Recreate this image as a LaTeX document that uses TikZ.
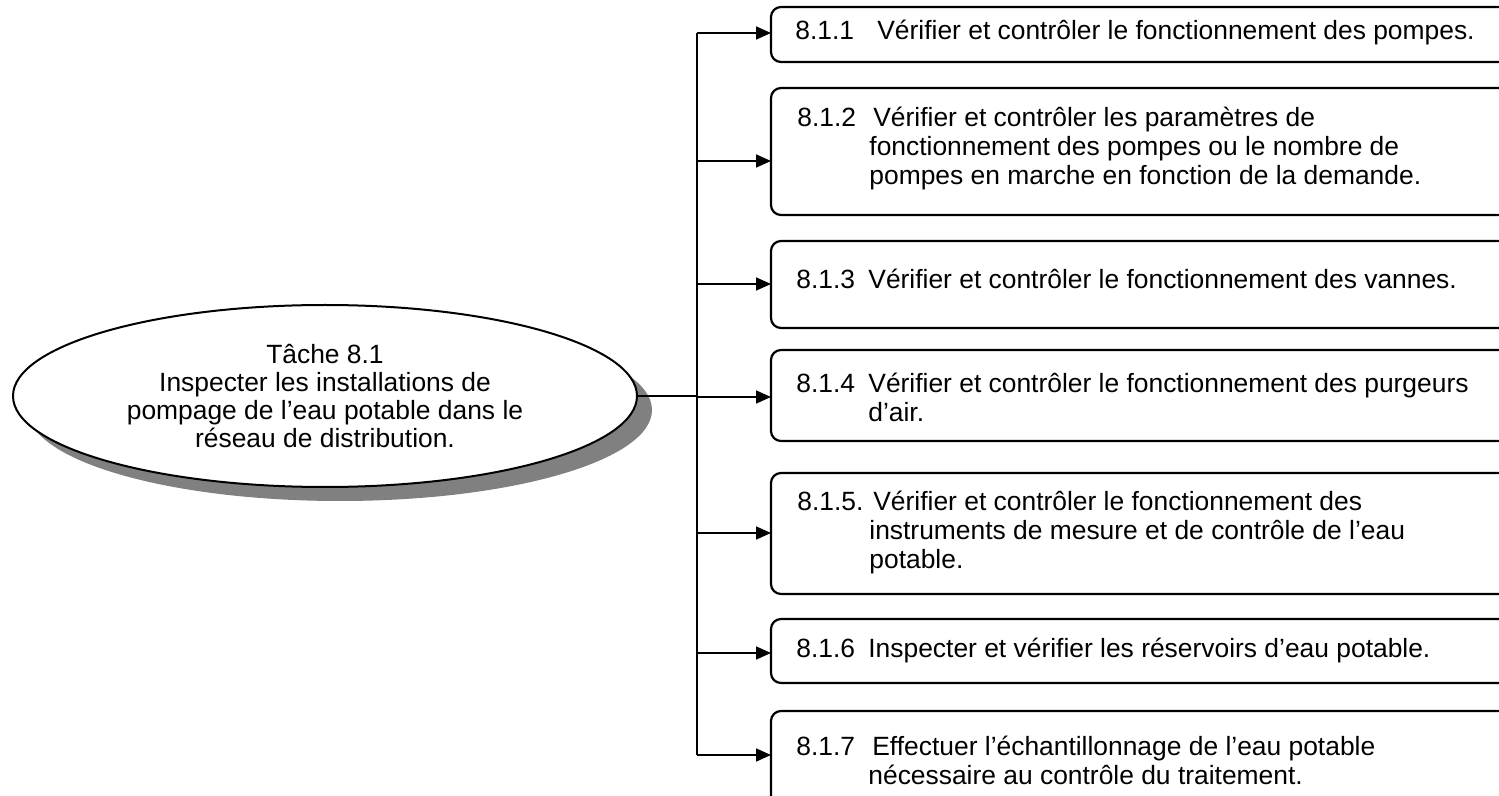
\documentclass[tikz,border=0pt]{standalone}
\usepackage{fontspec}
\setmainfont{Liberation Sans}
\usetikzlibrary{shapes.geometric,shadows,arrows.meta}
\newcommand{\numlbl}[2]{\makebox[#1][l]{#2}}
\newcommand{\contind}{\hspace*{36pt}}
\tikzset{
  box/.style={draw, line width=1.1pt, rounded corners=5pt, outer sep=0pt, inner sep=0pt,
    anchor=north west, fill=white, minimum width=384.5pt},
  lbl/.style={anchor=west, align=left, inner sep=0pt, font=\fontsize{13.2}{14.5}\selectfont},
  arr/.style={line width=0.85pt, -{Triangle[length=7.5pt,width=6.5pt]}},
  wire/.style={line width=0.85pt},
  task/.style={ellipse, draw, line width=1pt, fill=white, minimum width=312pt, minimum height=91pt,
    inner sep=0pt, outer sep=0pt, align=center, font=\fontsize{13.2}{14}\selectfont,
    drop shadow={shadow xshift=7.5pt, shadow yshift=-7pt, fill=gray, opacity=1}}
}
\begin{document}
\begin{tikzpicture}[x=0.5pt,y=-0.5pt]
\useasboundingbox (0,0) rectangle (1499,796);
\clip (0,0) rectangle (1499,796);

% boxes
\node[box, minimum height=27.5pt] (b1) at (771,7) {};
\node[box, minimum height=63.5pt] (b2) at (771,88) {};
\node[box, minimum height=43.5pt] (b3) at (771,241) {};
\node[box, minimum height=45.5pt] (b4) at (771,350) {};
\node[box, minimum height=60.5pt] (b5) at (771,473) {};
\node[box, minimum height=32pt] (b6) at (771,619) {};
\node[box, minimum height=49.5pt] (b7) at (771,711) {};

% labels
\node[lbl] (t1) at (795,33) {\numlbl{41pt}{8.1.1}Vérifier et contrôler le fonctionnement des pompes.};
\node[lbl] (t2) at (797,148.5) {\numlbl{38pt}{8.1.2}Vérifier et contrôler les paramètres de\\
  \contind fonctionnement des pompes ou le nombre de\\
  \contind pompes en marche en fonction de la demande.};
\node[lbl] (t3) at (796,279) {\numlbl{36pt}{8.1.3}Vérifier et contrôler le fonctionnement des vannes.};
\node[lbl] (t4) at (796,397) {\numlbl{36pt}{8.1.4}Vérifier et contrôler le fonctionnement des purgeurs\\
  \contind d’air.};
\node[lbl] (t5) at (797,533) {\numlbl{38pt}{8.1.5.}Vérifier et contrôler le fonctionnement des\\
  \contind instruments de mesure et de contrôle de l’eau\\
  \contind potable.};
\node[lbl] (t6) at (796,651) {\numlbl{36pt}{8.1.6}Inspecter et vérifier les réservoirs d’eau potable.};
\node[lbl] (t7) at (796,760) {\numlbl{38pt}{8.1.7}Effectuer l’échantillonnage de l’eau potable\\
  \contind nécessaire au contrôle du traitement.};

% task ellipse
\node[task] (task) at (325,396) {Tâche 8.1\\Inspecter les installations de\\pompage de l’eau potable dans le\\réseau de distribution.};

% trunk
\coordinate (j1) at (697,33);
\coordinate (j2) at (697,161);
\coordinate (j3) at (697,284);
\coordinate (j4) at (697,397);
\coordinate (j5) at (697,533);
\coordinate (j6) at (697,653);
\coordinate (j7) at (697,755);
\draw[wire] (j1) -- (j7);
\draw[wire] (task.east) -- (task.east -| j1);

\draw[arr] (j1) -- (j1 -| b1.west);
\draw[arr] (j2) -- (j2 -| b2.west);
\draw[arr] (j3) -- (j3 -| b3.west);
\draw[arr] (j4) -- (j4 -| b4.west);
\draw[arr] (j5) -- (j5 -| b5.west);
\draw[arr] (j6) -- (j6 -| b6.west);
\draw[arr] (j7) -- (j7 -| b7.west);
\end{tikzpicture}
\end{document}
